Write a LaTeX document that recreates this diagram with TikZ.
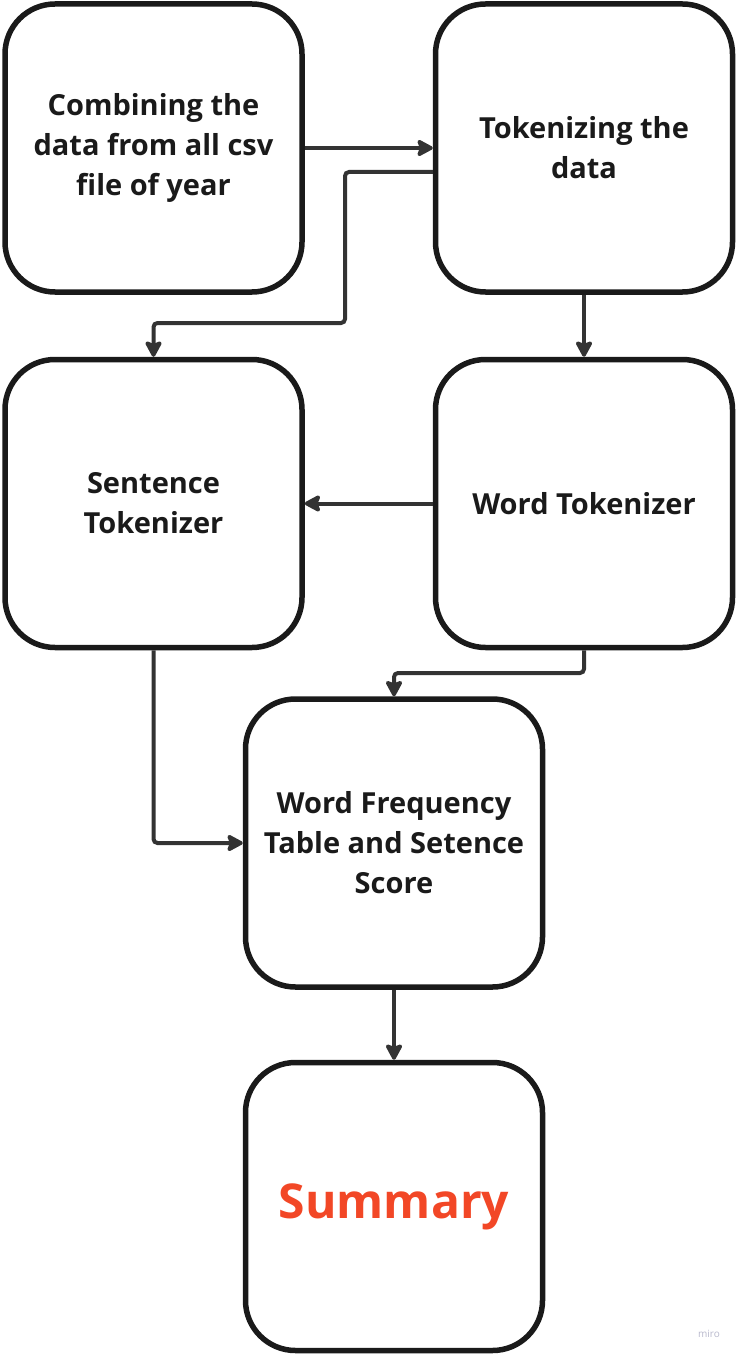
\documentclass[tikz,border=0pt]{standalone}
\usepackage{fontspec}
\setmainfont{Open Sans}
\usetikzlibrary{arrows.meta,positioning}
\definecolor{inkbox}{HTML}{1A1A1A}
\definecolor{inkline}{HTML}{333333}
\definecolor{mirored}{HTML}{F24726}
\definecolor{mirogray}{HTML}{B8B8CC}

\begin{document}
\begin{tikzpicture}[
    x=1pt, y=-1pt,
    node distance=128pt and 128pt,
    >={Stealth[length=19pt, width=20pt, inset=4pt, round]},
    box/.style={draw=inkbox, line width=5.5pt, rounded corners=50pt, align=center,
      minimum width=297pt, minimum height=288pt, text=inkbox,
      font=\bfseries\fontsize{29}{40}\selectfont},
    arrow/.style={->, line width=4pt, draw=inkline, rounded corners=4pt}
  ]
    \useasboundingbox (0,0) rectangle (737,1356);

    \node[box] (combine) at (153.5,148) {Combining the\\data from all csv\\file of year};
    \node[box, right=128pt of combine] (tokenize) {Tokenizing the\\data};
    \node[box, below=62pt of combine] (sentence) {Sentence\\Tokenizer};
    \node[box, below=62pt of tokenize] (word) {Word Tokenizer};
    \node[box] (frequency) at (394,843) {Word Frequency\\Table and Setence\\Score};
    \node[box, below=70pt of frequency, font=\bfseries\fontsize{48}{56}\selectfont, text=mirored] (summary) {Summary};
    \node[text=mirogray, font=\fontsize{10}{12}\selectfont] (miro) at (709,1334) {miro};

    \coordinate (split) at (345,323);
    \coordinate (merge) at (394,673);

    \draw[arrow] (combine) -- (tokenize);
    \draw[arrow] ([yshift=-24pt]tokenize.west) -| (split) -| (sentence.north);
    \draw[arrow] (tokenize) -- (word);
    \draw[arrow] (word) -- (sentence);
    \draw[arrow] (word.south) |- (merge) -- (frequency.north);
    \draw[arrow] (sentence.south) |- (frequency.west);
    \draw[arrow] (frequency) -- (summary);
  \end{tikzpicture}
\end{document}
